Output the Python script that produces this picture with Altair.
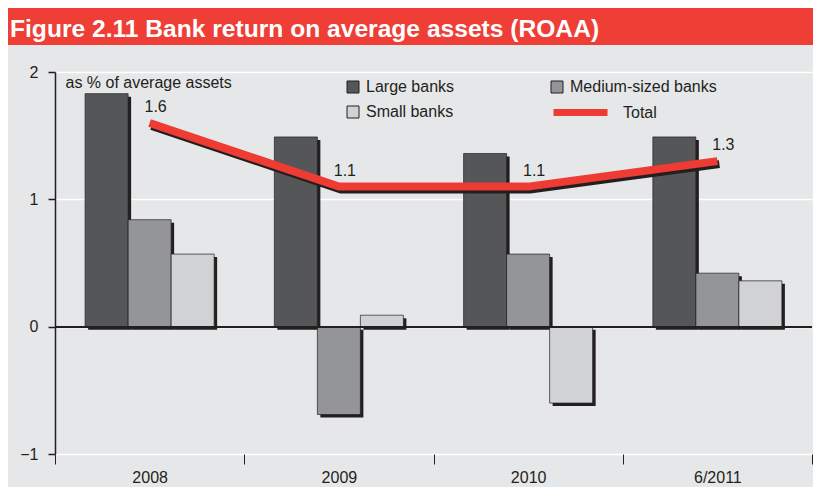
import altair as alt
import pandas as pd

# ---- data ----
periods = ["2008", "2009", "2010", "6/2011"]
bank_types = ["Large banks", "Medium-sized banks", "Small banks"]
large_banks = [1.83, 1.49, 1.36, 1.49]
medium_banks = [0.84, -0.69, 0.57, 0.42]
small_banks = [0.57, 0.09, -0.60, 0.36]
total = [1.6, 1.1, 1.1, 1.3]
y_ticks = [-1, 0, 1, 2]
title_text = ["Figure 2.11 Bank return on average assets (ROAA)"]

# ---- styling ----
bar_colors = ["#555658", "#939598", "#d1d2d4"]
RED = "#ee3b33"
TITLE_RED = "#ee3e35"
INK = "#231f20"
BG = "#e6e7e8"
FONT = "Liberation Sans"
W, H = 757, 382
PAD = {"left": 47, "top": 64, "right": 1, "bottom": 33}

rows = []
for t, vals in zip(bank_types, [large_banks, medium_banks, small_banks]):
    for p, v in zip(periods, vals):
        rows.append({"period": p, "type": t, "value": v})
bars_df = pd.DataFrame(rows)
line_df = pd.DataFrame({"period": periods, "value": total, "series": ["Total"] * len(periods)})
title_df = pd.DataFrame({"t": title_text})

x_axis = alt.Axis(title=None, labelAngle=0, tickBand="extent", domain=False, ticks=True,
                  tickColor=INK, tickSize=10, tickWidth=1, labelFontSize=16, labelFont=FONT,
                  labelColor=INK, labelPadding=5, grid=False)
x_scale = alt.Scale(domain=periods, paddingInner=0, paddingOuter=0)
y_axis = alt.Axis(title="as % of average assets", titleAngle=0, titleX=10, titleY=10,
                  titleAlign="left", titleBaseline="middle", titleFontSize=16,
                  titleFontWeight="normal", titleColor=INK, titleFont=FONT,
                  values=y_ticks, format="d", grid=True, gridColor="white", gridWidth=1.5,
                  domain=True, domainColor=INK, domainWidth=1.5, ticks=True, tickColor=INK,
                  tickSize=7, tickWidth=1.5, labelFontSize=16, labelFont=FONT, labelColor=INK,
                  labelPadding=10)
y_scale = alt.Scale(domain=[-1, 2], nice=False, zero=False)

X = alt.X("period:N", sort=periods, scale=x_scale, axis=x_axis)
Y = alt.Y("value:Q", scale=y_scale, axis=y_axis)

base_bars = alt.Chart(bars_df)

shadow = base_bars.mark_bar(color=INK, yOffset=3, y2Offset=3).encode(
    x=X, y=Y,
    xOffset=alt.XOffset("type:N", sort=bank_types,
                        scale=alt.Scale(domain=bank_types, range=[3, W / 4 + 3],
                                        paddingInner=0, paddingOuter=0.7)),
)

bars = base_bars.mark_bar(stroke=INK, strokeWidth=0.7).encode(
    x=X, y=Y,
    xOffset=alt.XOffset("type:N", sort=bank_types,
                        scale=alt.Scale(domain=bank_types, paddingInner=0, paddingOuter=0.7)),
    color=alt.Color("type:N", sort=bank_types,
                    scale=alt.Scale(domain=bank_types, range=bar_colors),
                    legend=alt.Legend(title=None, orient="none", legendX=290, legendY=7,
                                      direction="horizontal", columns=2, columnPadding=94,
                                      rowPadding=9, symbolType="square", symbolSize=144,
                                      symbolStrokeColor=INK, symbolStrokeWidth=1,
                                      labelFontSize=16, labelFont=FONT, labelColor=INK,
                                      labelOffset=5, padding=0)),
)

zero_rule = alt.Chart(bars_df).mark_rule(color=INK, strokeWidth=1.5).encode(y=alt.datum(0))

base_line = alt.Chart(line_df)
line_shadow = base_line.mark_line(color=INK, strokeWidth=8, strokeCap="butt",
                                  xOffset=2, yOffset=3).encode(x=X, y=Y)
line = base_line.mark_line(strokeWidth=8, strokeCap="butt").encode(
    x=X, y=Y,
    stroke=alt.Stroke("series:N", scale=alt.Scale(domain=["Total"], range=[RED]),
                      legend=alt.Legend(title=None, orient="none", legendX=495, legendY=10,
                                        symbolType="stroke", symbolSize=2916,
                                        symbolStrokeWidth=7, labelFontSize=16,
                                        labelFont=FONT, labelColor=INK, labelOffset=12,
                                        padding=0)),
)
line_labels = base_line.mark_text(dx=6, dy=-16, fontSize=16, font=FONT, color=INK).encode(
    x=X, y=Y, text=alt.Text("value:Q", format=".1f"))

title_bar = alt.Chart(title_df).mark_rect(color=TITLE_RED).encode(
    x=alt.value(-PAD["left"]), x2=alt.value(W + PAD["right"]),
    y=alt.value(-PAD["top"]), y2=alt.value(-27))
title = alt.Chart(title_df).mark_text(align="left", baseline="alphabetic", color="white",
                                      font=FONT, fontSize=24.6, fontWeight="bold").encode(
    x=alt.value(-45), y=alt.value(-35), text="t:N")

chart = alt.layer(
    title_bar, title, shadow, bars, zero_rule, line_shadow, line, line_labels
).resolve_scale(
    xOffset="independent"
).properties(
    width=W, height=H,
    autosize=alt.AutoSizeParams(type="none"),
    padding=PAD,
    background=BG,
).configure_view(strokeWidth=0)

chart.save("out.html", embed_options={"renderer": "svg", "actions": False})
